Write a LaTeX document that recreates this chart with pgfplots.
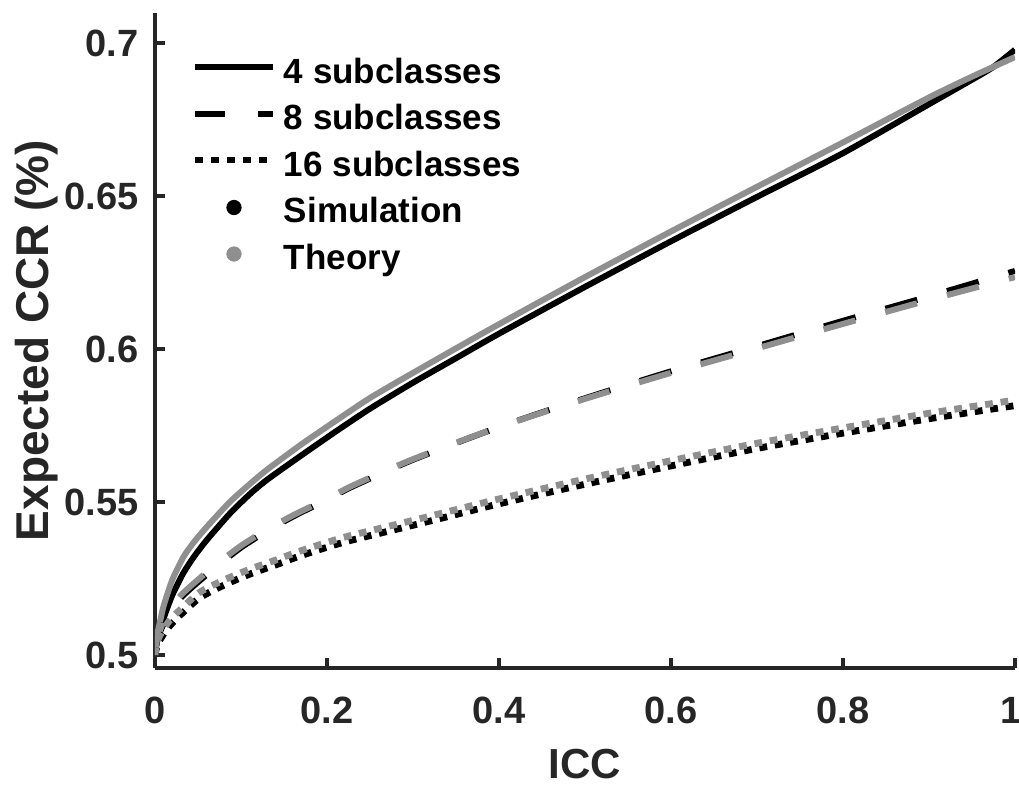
\documentclass[border=0pt]{standalone}
\usepackage{fontspec}
\setmainfont{Liberation Sans}
\usepackage{pgfplots}
\usepackage{pgfplotstable}
\pgfplotsset{compat=1.18}
\definecolor{axgray}{rgb}{0.15,0.15,0.15}
\definecolor{thgray}{rgb}{0.56,0.56,0.56}
\pgfplotsset{
  linelegend/.style={legend image code/.code={\draw[##1] (0pt,3.5pt) -- (39pt,3.5pt);}},
  marklegend/.style={legend image code/.code={\path[draw=none,fill=none] (0pt,2.5pt) rectangle (39pt,4.5pt); \draw[##1] plot coordinates {(19.5pt,3pt)};}},
}

\pgfplotstableread{
x y
0 0.5000
0.002 0.5040
0.005 0.5075
0.01 0.5120
0.02 0.5195
0.033 0.5268
0.045 0.5320
0.06 0.5375
0.087 0.5462
0.11 0.5525
0.13 0.5572
0.17 0.5652
0.21 0.5730
0.25 0.5805
0.3 0.5890
0.35 0.5970
0.4 0.6050
0.5 0.6203
0.6 0.6352
0.7 0.6497
0.8 0.6640
0.9 0.6800
0.95 0.6880
0.975 0.6922
1.0 0.6978
}\simfour
\pgfplotstableread{
x y
0 0.5000
0.002 0.5060
0.005 0.5098
0.01 0.5160
0.02 0.5245
0.033 0.5320
0.045 0.5368
0.06 0.5418
0.087 0.5500
0.11 0.5558
0.13 0.5605
0.17 0.5688
0.21 0.5765
0.25 0.5840
0.3 0.5922
0.35 0.6002
0.4 0.6081
0.5 0.6235
0.6 0.6384
0.7 0.6530
0.8 0.6675
0.9 0.6822
0.95 0.6890
1.0 0.6954
}\thfour
\pgfplotstableread{
x y
0 0.5000
0.002 0.5040
0.005 0.5068
0.01 0.5102
0.02 0.5152
0.03 0.5187
0.043 0.5221
0.06 0.5262
0.08 0.5308
0.101 0.5353
0.13 0.5405
0.165 0.5459
0.2 0.5507
0.23 0.5551
0.3 0.5638
0.4 0.5745
0.5 0.5839
0.6 0.5927
0.7 0.6009
0.8 0.6092
0.9 0.6172
1.0 0.6255
}\simeight
\pgfplotstableread{
x y
0 0.5000
0.002 0.5045
0.005 0.5075
0.01 0.5110
0.02 0.5160
0.03 0.5195
0.043 0.5229
0.06 0.5270
0.08 0.5315
0.101 0.5359
0.13 0.5410
0.165 0.5463
0.2 0.5510
0.23 0.5554
0.3 0.5640
0.4 0.5745
0.5 0.5837
0.6 0.5922
0.7 0.6002
0.8 0.6082
0.9 0.6160
1.0 0.6235
}\theight
\pgfplotstableread{
x y
0 0.5000
0.002 0.5025
0.005 0.5045
0.01 0.5068
0.0174 0.5096
0.03 0.5132
0.052 0.5187
0.08 0.5228
0.11 0.5264
0.14 0.5294
0.169 0.5324
0.2 0.5352
0.227 0.5374
0.3 0.5424
0.343 0.5454
0.4 0.5494
0.5 0.5558
0.6 0.5618
0.7 0.5675
0.8 0.5725
0.9 0.5772
1.0 0.5815
}\simsixteen
\pgfplotstableread{
x y
0 0.5000
0.002 0.5039
0.005 0.5060
0.01 0.5085
0.0174 0.5114
0.03 0.5150
0.052 0.5205
0.08 0.5245
0.11 0.5280
0.14 0.5310
0.169 0.5340
0.2 0.5368
0.227 0.5390
0.3 0.5440
0.343 0.5470
0.4 0.5510
0.5 0.5575
0.6 0.5635
0.7 0.5692
0.8 0.5742
0.9 0.5790
1.0 0.5833
}\thsixteen

\begin{document}
\begin{tikzpicture}
\useasboundingbox (-77.5pt,-58pt) rectangle (432pt,334pt);
\begin{axis}[
  at={(0pt,0pt)}, anchor=south west,
  width=430pt, height=327.5pt, scale only axis,
  xmin=0, xmax=1, ymin=0.49575, ymax=0.7098,
  axis lines*=left,
  axis line style={-, line width=2pt, color=axgray},
  tick align=inside, major tick length=5pt,
  tick style={line width=2pt, color=axgray},
  /pgf/number format/assume math mode=true,
  xtick={0,0.2,0.4,0.6,0.8,1}, xticklabels={0,0.2,0.4,0.6,0.8,\hspace*{-4pt}1},
  ytick={0.5,0.55,0.6,0.65,0.7}, yticklabels={0.5,0.55,0.6,0.65,0.7},
  tick label style={font=\fontsize{19}{22}\selectfont\bfseries, text=axgray},
  xticklabel style={anchor=north, inner sep=0pt, yshift=-14.5pt},
  yticklabel style={anchor=east, inner sep=0pt, xshift=-8pt},
  xlabel={ICC},
  xlabel style={font=\fontsize{21}{24}\selectfont\bfseries, text=axgray,
    at={(axis description cs:0.5,-0.1237)}, anchor=north, inner sep=0pt},
  ylabel={Expected CCR (\%)},
  ylabel style={font=\fontsize{23}{26}\selectfont\bfseries, text=axgray,
    at={(axis description cs:-0.1628,0.5)}, anchor=north, inner sep=0pt},
  legend cell align=left,
  legend style={at={(axis description cs:0,1)}, anchor=north west,
    xshift=18.5pt, yshift=-22.5pt, draw=none, fill=none,
    inner sep=0pt, outer sep=0pt, row sep=7.25pt, column sep=4pt,
    font=\fontsize{17.5}{20}\selectfont\bfseries, text=black,
    nodes={inner sep=0pt, text height=12.5pt, text depth=3.5pt}},
]
\addlegendimage{linelegend, black, line width=2.8pt}
\addlegendentry{4 subclasses}
\addlegendimage{linelegend, black, line width=3pt, dash pattern=on 15pt off 16.5pt}
\addlegendentry{8 subclasses}
\addlegendimage{linelegend, black, line width=3pt, dash pattern=on 4pt off 4pt}
\addlegendentry{16 subclasses}
\addlegendimage{marklegend, only marks, mark=*, mark size=3.6pt, black}
\addlegendentry{Simulation}
\addlegendimage{marklegend, only marks, mark=*, mark size=3.6pt, thgray}
\addlegendentry{Theory}

\addplot[forget plot, smooth, tension=0.4, black, line width=3pt] table {\simfour};
\addplot[forget plot, smooth, tension=0.4, thgray, line width=3pt] table {\thfour};
\addplot[forget plot, smooth, tension=0.4, black, line width=3pt, dash pattern=on 16.5pt off 15.5pt] table {\simeight};
\addplot[forget plot, smooth, tension=0.4, thgray, line width=3pt, dash pattern=on 16.5pt off 15.5pt] table {\theight};
\addplot[forget plot, smooth, tension=0.4, black, line width=3.4pt, dash pattern=on 3.9pt off 3.9pt] table {\simsixteen};
\addplot[forget plot, smooth, tension=0.4, thgray, line width=3.4pt, dash pattern=on 3.9pt off 3.9pt] table {\thsixteen};
\end{axis}
\end{tikzpicture}
\end{document}
